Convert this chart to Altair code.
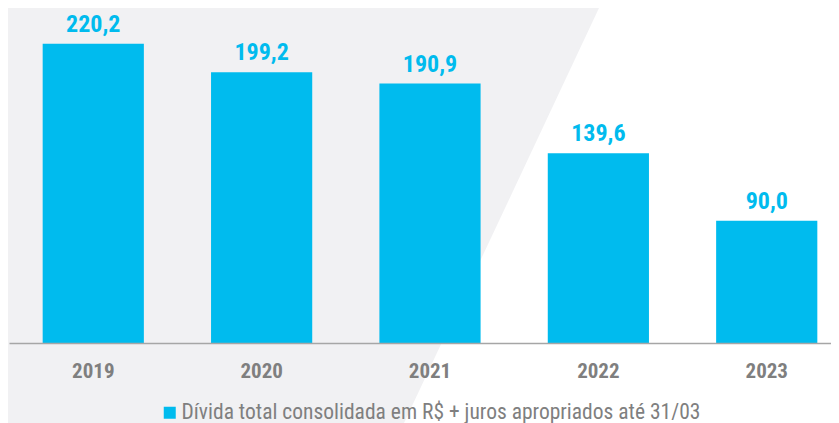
import altair as alt
import pandas as pd

anos = ["2019", "2020", "2021", "2022", "2023"]
valores = [220.2, 199.2, 190.9, 139.6, 90.0]
rotulos = ["220,2", "199,2", "190,9", "139,6", "90,0"]
serie = "Dívida total consolidada em R$ + juros apropriados até 31/03"

# decorative background polygon (pixel space of the plot area)
bg_x = [-1, 395, 590]
bg_top = [0, 0, 0]
bg_bot = [415, 415, 0]

FONT = "Roboto Condensed, Liberation Sans Narrow, DejaVu Sans Condensed, Roboto, sans-serif"
CYAN = "#00BBEE"
GRAY = "#7F7F7F"

df = pd.DataFrame({"ano": anos, "valor": valores, "rotulo": rotulos, "serie": [serie] * len(anos)})
bg = pd.DataFrame({"px": bg_x, "top": bg_top, "bot": bg_bot})

xscale = alt.Scale(paddingInner=0.399, paddingOuter=0.2, range=[0, 842])
yscale = alt.Scale(domain=[0, 246.5])

background = alt.Chart(bg).mark_area(color="#F1F1F3", interpolate="linear").encode(
    x=alt.X("px:Q", scale=None, axis=None),
    y=alt.Y("top:Q", scale=None, axis=None),
    y2="bot:Q",
)

bars = alt.Chart(df).mark_bar().encode(
    x=alt.X(
        "ano:N",
        scale=xscale,
        title=None,
        axis=alt.Axis(
            labelAngle=0,
            labelFont=FONT,
            labelFontSize=21,
            labelFontWeight="bold",
            labelColor=GRAY,
            labelPadding=17,
            ticks=False,
            domainColor="#A6A6A6",
            domainWidth=1.5,
            grid=False,
            zindex=1,
        ),
    ),
    y=alt.Y("valor:Q", scale=yscale, axis=None),
    color=alt.Color(
        "serie:N",
        scale=alt.Scale(range=[CYAN]),
        legend=alt.Legend(
            title=None,
            orient="none",
            legendX=150,
            legendY=394,
            symbolType="square",
            symbolSize=144,
            symbolStrokeWidth=0,
            labelFont=FONT,
            labelFontSize=21.5,
            labelColor=GRAY,
            labelLimit=800,
            labelOffset=1,
            padding=0,
        ),
    ),
)

labels = alt.Chart(df).mark_text(
    font=FONT, fontSize=24, fontWeight="bold", color=CYAN, baseline="alphabetic", dy=-12
).encode(
    x=alt.X("ano:N", scale=xscale, axis=None),
    y=alt.Y("valor:Q", scale=yscale, axis=None),
    text="rotulo:N",
)

chart = (
    alt.layer(background, bars, labels)
    .resolve_scale(x="independent", y="independent")
    .properties(
        width=822,
        height=335,
        autosize=alt.AutoSizeParams(type="none"),
        padding={"left": 1, "top": 0, "right": 0, "bottom": 80},
        background="white",
    )
    .configure_view(stroke=None)
)

chart.save("out.html", embed_options={"renderer": "svg", "actions": False})
